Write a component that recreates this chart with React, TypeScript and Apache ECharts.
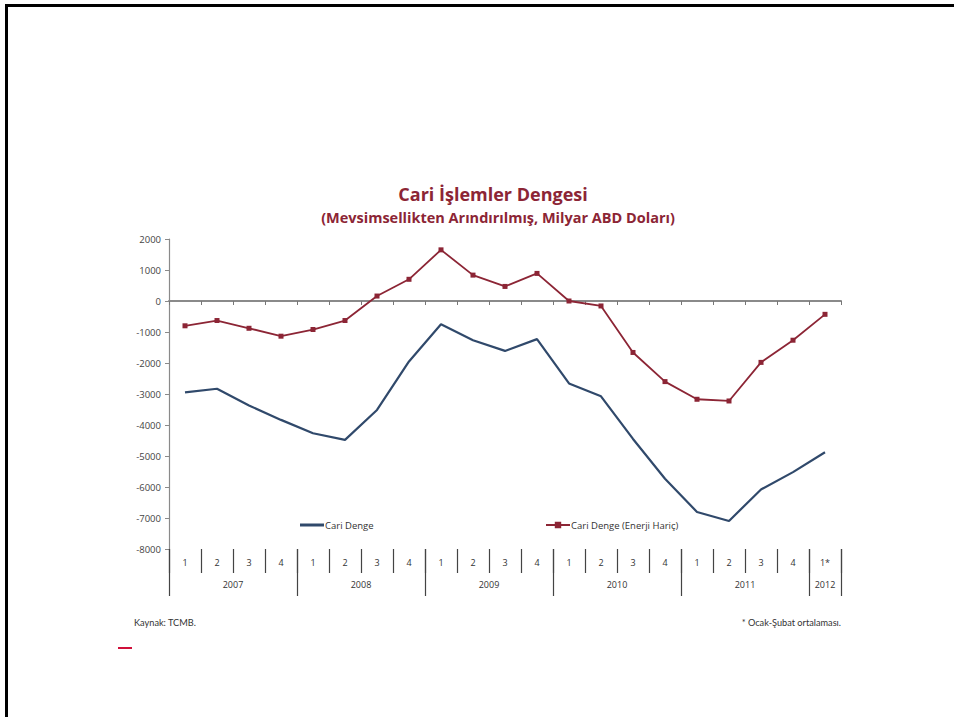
import React, { useEffect, useRef } from "react";
import * as echarts from "echarts";

const quarters = ["1","2","3","4","1","2","3","4","1","2","3","4","1","2","3","4","1","2","3","4","1*"];
const years = ["2007","2008","2009","2010","2011","2012"];
const yearStartIdx = [0, 4, 8, 12, 16, 20];
const cariDenge = [-2950,-2830,-3370,-3835,-4265,-4480,-3515,-1950,-750,-1265,-1610,-1230,-2660,-3075,-4450,-5735,-6805,-7095,-6080,-5520,-4880];
const cariDengeEnerjiHaric = [-800,-630,-880,-1135,-920,-630,160,700,1650,835,470,890,0,-160,-1660,-2600,-3170,-3225,-1980,-1265,-430];
const yTicks = { min: -8000, max: 2000, interval: 1000 };

const titleText = "Cari İşlemler Dengesi";
const subtitleText = "(Mevsimsellikten Arındırılmış, Milyar ABD Doları)";
const seriesNames = ["Cari Denge", "Cari Denge (Enerji Hariç)"];

const FONT = "Lato, 'Open Sans', sans-serif";
const TFONT = "'Open Sans', Lato, sans-serif";
const RED = "#8C2535";
const BLUE = "#30496B";

export default function App() {
  const ref = useRef<HTMLDivElement>(null);
  useEffect(() => {
    const chart = echarts.init(ref.current!, null, { renderer: "svg" });
    const idxs = quarters.map((_, i) => String(i));
    const yearLabelAt: Record<number, string> = {};
    yearStartIdx.forEach((s, k) => {
      const groupLen = (k + 1 < yearStartIdx.length ? yearStartIdx[k + 1] : quarters.length) - s;
      if (groupLen === 4) yearLabelAt[s + 1] = "{a|" + years[k] + "}";
      else yearLabelAt[s] = "{b|" + years[k] + "}";
    });
    const lblStyle = { fontSize: 9, fontFamily: TFONT, color: "#333" };
    chart.setOption({
      animation: false,
      backgroundColor: "#fff",
      textStyle: { fontFamily: FONT },
      title: [
        {
          text: titleText,
          left: 488, top: 180, textAlign: "center",
          textStyle: { fontFamily: TFONT, fontSize: 18, fontWeight: "bold", color: RED },
        },
        {
          text: subtitleText,
          left: 493, top: 205, textAlign: "center",
          textStyle: { fontFamily: TFONT, fontSize: 14.5, fontWeight: "bold", color: RED },
        },
      ],
      legend: [
        {
          data: [{ name: seriesNames[0], icon: "rect" }], left: 295, top: 515, itemWidth: 24, itemHeight: 3, itemGap: 2,
          textStyle: { fontFamily: TFONT, fontSize: 9.5, color: "#333", padding: [0, 0, 0, -4] },
        },
        {
          data: [seriesNames[1]], left: 540, top: 515, itemWidth: 24, itemHeight: 8, itemGap: 2,
          textStyle: { fontFamily: TFONT, fontSize: 9.5, color: "#333", padding: [0, 0, 0, -4] },
        },
      ],
      grid: { left: 169, right: 113, top: 239, bottom: 168, containLabel: false, outerBoundsMode: "none" },
      xAxis: [
        {
          type: "category", data: idxs, position: "bottom",
          axisLine: { onZero: true, lineStyle: { color: "#8a8a8a", width: 2 } },
          axisTick: { show: true, interval: 0, length: 4, lineStyle: { color: "#777", width: 1 } },
          axisLabel: { show: false },
          splitLine: { show: false },
        },
        {
          type: "category", data: quarters, position: "bottom",
          axisLine: { show: false, onZero: false },
          axisTick: { show: true, interval: 0, length: 24, lineStyle: { color: "#444", width: 1.2 } },
          axisLabel: { interval: 0, margin: 9, ...lblStyle },
          splitLine: { show: false },
        },
        {
          type: "category", data: idxs, position: "bottom",
          axisLine: { show: false, onZero: false },
          axisTick: {
            show: true, length: 47, lineStyle: { color: "#444", width: 1.2 },
            interval: (i: number) => yearStartIdx.indexOf(i) >= 0,
          },
          axisLabel: {
            interval: 0, margin: 31, ...lblStyle,
            formatter: (_v: string, i: number) => yearLabelAt[i] || "",
            rich: { a: { padding: [0, 0, 0, 32], ...lblStyle }, b: { ...lblStyle } },
          },
          splitLine: { show: false },
        },
      ],
      yAxis: {
        type: "value", min: yTicks.min, max: yTicks.max, interval: yTicks.interval,
        axisLine: { show: true, lineStyle: { color: "#8a8a8a", width: 1.2 } },
        axisTick: { show: true, length: 4, lineStyle: { color: "#8a8a8a" } },
        axisLabel: { fontSize: 9.5, fontFamily: TFONT, color: "#444", margin: 8, formatter: (v: number) => String(v) },
        splitLine: { show: false },
      },
      series: [
        {
          name: seriesNames[0], type: "line", data: cariDenge, xAxisIndex: 0,
          symbol: "none", lineStyle: { color: BLUE, width: 2.2 }, itemStyle: { color: BLUE },
        },
        {
          name: seriesNames[1], type: "line", data: cariDengeEnerjiHaric, xAxisIndex: 0,
          symbol: "rect", symbolSize: 5, lineStyle: { color: RED, width: 1.8 }, itemStyle: { color: RED },
        },
      ],
      graphic: [
        { type: "rect", shape: { x: 5, y: 4, width: 949, height: 3 }, style: { fill: "#000" } },
        { type: "rect", shape: { x: 5, y: 4, width: 3, height: 713 }, style: { fill: "#000" } },
        { type: "rect", shape: { x: 118, y: 647, width: 14, height: 2 }, style: { fill: "#D0103A" } },
        {
          type: "text", x: 134, y: 618,
          style: { text: "Kaynak: TCMB.", fontSize: 9.2, fontFamily: FONT, fill: "#333" },
        },
        {
          type: "text", x: 841, y: 618,
          style: { text: "* Ocak-Şubat ortalaması.", fontSize: 9.2, fontFamily: FONT, fill: "#333", align: "right" },
        },
      ],
    });
    return () => chart.dispose();
  }, []);
  return <div ref={ref} style={{ position: "fixed", left: 0, top: 0, width: 954, height: 717 }} />;
}
